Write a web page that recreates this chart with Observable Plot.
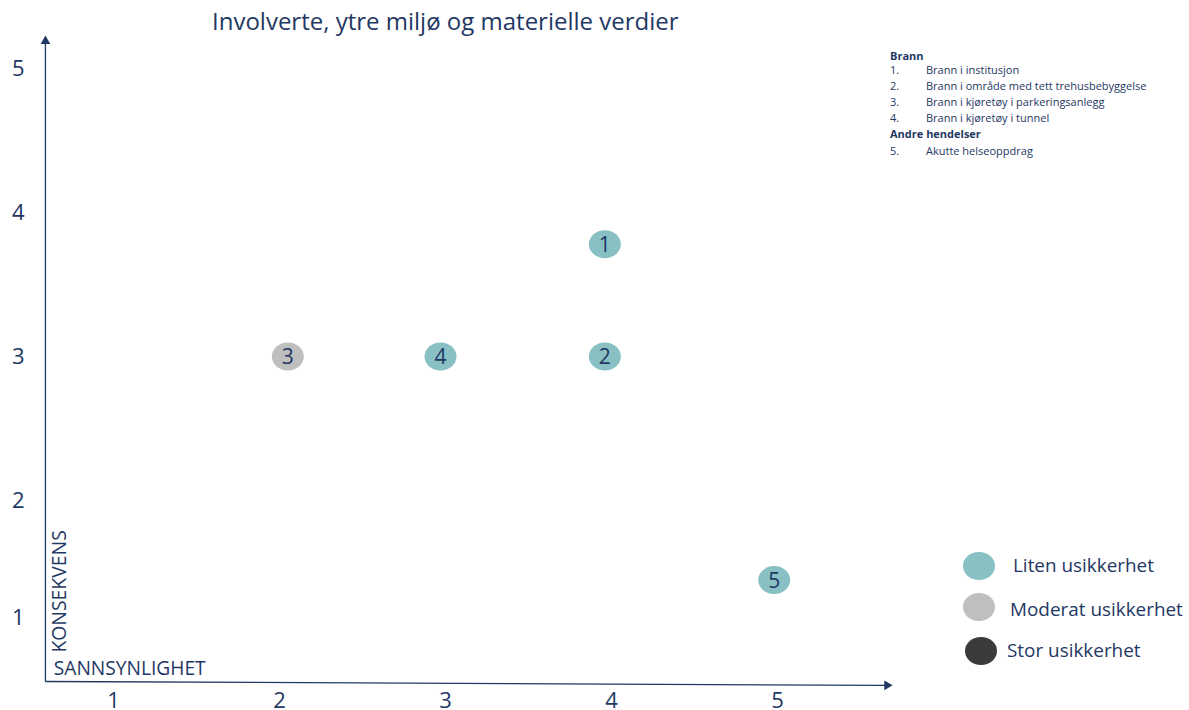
<!DOCTYPE html>
<html>
<head>
<meta charset="utf-8">
<script src="https://cdn.jsdelivr.net/npm/d3@7"></script>
<script src="https://cdn.jsdelivr.net/npm/@observablehq/plot@0.6"></script>
<style>
  html, body { margin: 0; padding: 0; background: #fff; }
  #wrap { position: relative; width: 1189px; height: 710px; overflow: hidden; font-family: "Open Sans", sans-serif; color: #1f3864; }
  #wrap svg { position: absolute; left: 0; top: 0; }
  .title { position: absolute; left: 212px; top: 4px; font-size: 24px; line-height: 34px; white-space: nowrap; color: #1f3864; }
  .note { position: absolute; font-family: "Open Sans", sans-serif; font-size: 11px; line-height: 16px; color: #1f3864; white-space: nowrap; }
  .note.h { font-weight: bold; }
  .note .num { display: inline-block; width: 36px; }
  .sw { position: absolute; font-size: 18.9px; line-height: 26px; white-space: nowrap; color: #1f3864; }
  .e { position: absolute; width: 32px; height: 28px; border-radius: 50%; }
</style>
</head>
<body>
<div id="wrap"></div>
<script>
// ---- Data ----
const ids = ["1", "2", "3", "4", "5"];
const sannsynlighet = [3.96, 3.96, 2.05, 2.97, 4.98];
const konsekvens = [3.78, 3, 3, 3, 1.32];
const usikkerhet = ["Liten usikkerhet", "Liten usikkerhet", "Moderat usikkerhet", "Liten usikkerhet", "Liten usikkerhet"];

const xTicks = [1, 2, 3, 4, 5];
const yTicks = [1, 2, 3, 4, 5];

const usikkerhetLevels = ["Liten usikkerhet", "Moderat usikkerhet", "Stor usikkerhet"];
const usikkerhetColors = ["#88c0c4", "#bfbfbf", "#3b3b3b"];

const titleText = "Involverte, ytre miljø og materielle verdier";
const xLabel = "SANNSYNLIGHET";
const yLabel = "KONSEKVENS";

const groupBrann = "Brann";
const brannItems = ["Brann i institusjon", "Brann i område med tett trehusbebyggelse", "Brann i kjøretøy i parkeringsanlegg", "Brann i kjøretøy i tunnel"];
const groupAndre = "Andre hendelser";
const andreItems = ["Akutte helseoppdrag"];

const points = ids.map((id, i) => ({id, x: sannsynlighet[i], y: konsekvens[i], u: usikkerhet[i]}));

// ellipse symbol
const ellipse = {
  draw(ctx) {
    const rx = 16, ry = 14, k = 0.5523;
    ctx.moveTo(rx, 0);
    ctx.bezierCurveTo(rx, ry * k, rx * k, ry, 0, ry);
    ctx.bezierCurveTo(-rx * k, ry, -rx, ry * k, -rx, 0);
    ctx.bezierCurveTo(-rx, -ry * k, -rx * k, -ry, 0, -ry);
    ctx.bezierCurveTo(rx * k, -ry, rx, -ry * k, rx, 0);
    ctx.closePath();
  }
};

const navy = "#1f3864";
// the lowest band (1–2) is drawn narrower than the others in the reference
const band = 117 / 144;
const yWarp = v => (v >= 2 ? v : 2 - (2 - v) * band);
const yUnwarp = v => (v >= 2 ? v : 2 - (2 - v) / band);

const chart = Plot.plot({
  width: 1189,
  height: 710,
  marginLeft: 45,
  marginBottom: 29,
  marginTop: 0,
  marginRight: 0,
  style: {fontFamily: "'Open Sans', sans-serif", color: navy, background: "transparent"},
  x: {domain: [1, 5], range: [113, 777]},
  y: {domain: [2, 5], range: [500, 68], transform: yWarp},
  color: {domain: usikkerhetLevels, range: usikkerhetColors},
  marks: [
    Plot.axisY({ticks: yTicks.map(yWarp), tickFormat: v => String(Math.round(yUnwarp(v))), tickSize: 0, tickPadding: 21, fontSize: 22, label: null, fill: navy}),
    Plot.axisX({ticks: xTicks, tickFormat: d => String(d), tickSize: 0, tickPadding: 11, fontSize: 22, label: null, fill: navy}),
    // axis lines
    Plot.link([{x1: 0.59, y1: 0.453, x2: 0.59, y2: 5.19}], {x1: "x1", y1: "y1", x2: "x2", y2: "y2", stroke: navy, strokeWidth: 1.3}),
    Plot.link([{x1: 0.59, y1: 0.453, x2: 5.66, y2: 0.42}], {x1: "x1", y1: "y1", x2: "x2", y2: "y2", stroke: navy, strokeWidth: 1.3}),
    Plot.dot([{x: 0.59, y: 5.19}], {x: "x", y: "y", symbol: "triangle", r: 3.6, fill: navy, stroke: null}),
    Plot.dot([{x: 5.66, y: 0.42}], {x: "x", y: "y", symbol: "triangle", r: 3.6, fill: navy, stroke: null, rotate: 90}),
    // axis labels
    Plot.text([xLabel], {x: 0.64, y: 0.56, text: d => d, textAnchor: "start", fontSize: 19.2, fill: navy}),
    Plot.text([yLabel], {x: 0.675, y: 0.70, text: d => d, textAnchor: "start", rotate: -90, fontSize: 19.4, fill: navy}),
    // points
    Plot.dot(points, {x: "x", y: "y", fill: "u", symbol: ellipse, stroke: null}),
    Plot.text(points, {x: "x", y: "y", text: "id", fontSize: 21, fill: navy, dy: 1})
  ]
});

const wrap = document.getElementById("wrap");
wrap.appendChild(chart);

// title
const t = document.createElement("div");
t.className = "title";
t.textContent = titleText;
wrap.appendChild(t);

// notes legend (line centres)
const noteLines = [];
noteLines.push({html: groupBrann, h: true, cy: 56});
let n = 1;
const brannCy = [70, 86, 102, 118];
brannItems.forEach((s, i) => noteLines.push({html: `<span class="num">${n++}.</span>${s}`, cy: brannCy[i]}));
noteLines.push({html: groupAndre, h: true, cy: 134});
const andreCy = [151];
andreItems.forEach((s, i) => noteLines.push({html: `<span class="num">${n++}.</span>${s}`, cy: andreCy[i]}));
noteLines.forEach(l => {
  const d = document.createElement("div");
  d.className = "note" + (l.h ? " h" : "");
  d.style.left = "890px";
  d.style.top = (l.cy - 8) + "px";
  d.innerHTML = l.html;
  wrap.appendChild(d);
});

// colour legend
const swPos = [{cx: 979, cy: 566, tx: 1013, ty: 565}, {cx: 979, cy: 607, tx: 1010, ty: 609}, {cx: 981, cy: 651, tx: 1007, ty: 650}];
usikkerhetLevels.forEach((lab, i) => {
  const p = swPos[i];
  const e = document.createElement("div");
  e.className = "e";
  e.style.left = (p.cx - 16) + "px";
  e.style.top = (p.cy - 14) + "px";
  e.style.background = usikkerhetColors[i];
  wrap.appendChild(e);
  const s = document.createElement("div");
  s.className = "sw";
  s.style.left = p.tx + "px";
  s.style.top = (p.ty - 13) + "px";
  s.textContent = lab;
  wrap.appendChild(s);
});
</script>
</body>
</html>
